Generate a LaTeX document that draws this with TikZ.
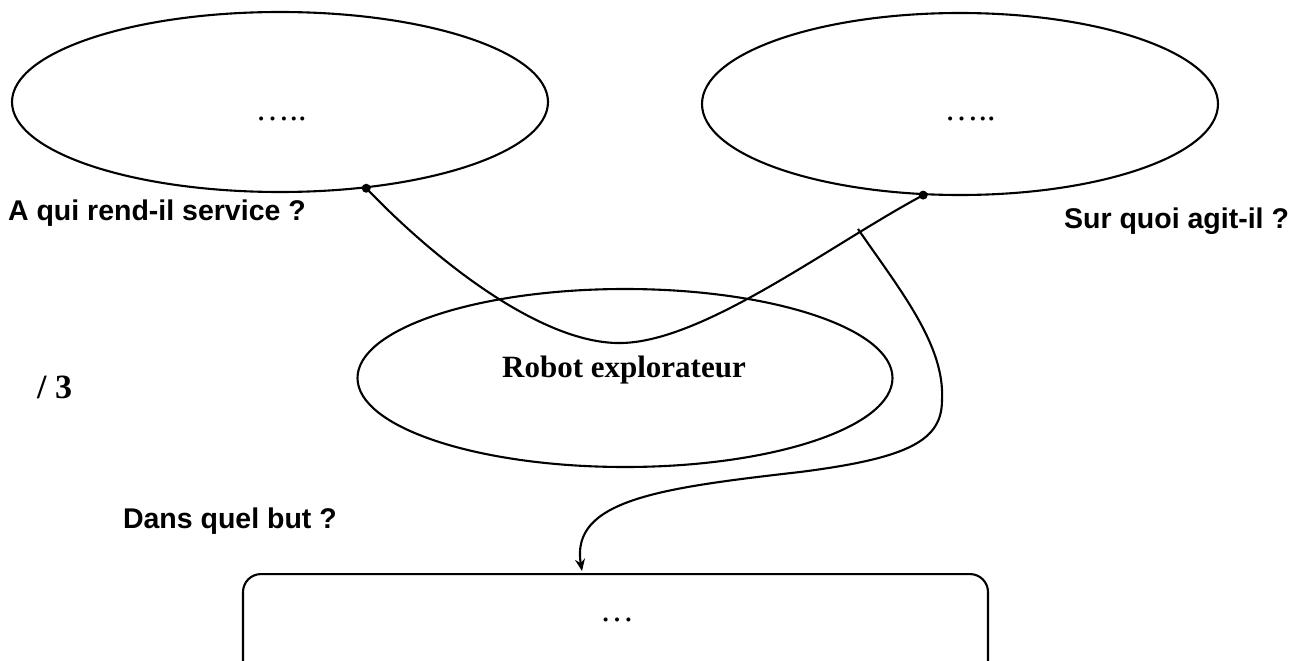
\documentclass[tikz,border=0pt]{standalone}
\usepackage{fontspec}
\setmainfont{Liberation Serif}
\setsansfont{Liberation Sans}
\usetikzlibrary{shapes.geometric,arrows.meta}
\begin{document}
\begin{tikzpicture}[x=1pt,y=-1pt,
  line width=2.1pt,
  oval/.style={draw,ellipse,inner sep=0pt},
  qlabel/.style={inner sep=0pt,font=\fontsize{28.5}{34}\selectfont\sffamily\bfseries},
  dotstxt/.style={inner sep=0pt,font=\fontsize{34}{40}\selectfont},
  joint/.style={fill=black,circle,inner sep=0pt,minimum size=9pt},
  conn/.style={line width=2.1pt}]
\useasboundingbox (0,0) rectangle (1302,661);
% ellipses
\node[oval,minimum width=536,minimum height=180] (L) at (280,102) {};
\node[oval,minimum width=516,minimum height=182] (R) at (960,104) {};
\node[oval,minimum width=535,minimum height=178] (M) at (625,378) {};
% box
\node[draw,rounded corners=18pt,minimum width=745,minimum height=150,inner sep=0pt,anchor=north] (B) at (615.5,573) {};
% texts
\node[dotstxt,anchor=base] (tL) at (281,121) {…..};
\node[dotstxt,anchor=base] (tR) at (970,121) {…..};
\node[dotstxt,anchor=base] (tB) at (617,621) {…};
\node[inner sep=0pt,anchor=base,font=\fontsize{31}{36}\selectfont\bfseries] (tM) at (624,377) {Robot explorateur};
\node[qlabel,anchor=base west] (q1) at (7,220) {A qui rend-il service ?};
\node[qlabel,anchor=base east] (q2) at (1290,228) {Sur quoi agit-il ?};
\node[qlabel,anchor=base west] (q3) at (122,528) {Dans quel but ?};
\node[inner sep=0pt,anchor=base west,font=\fontsize{34}{40}\selectfont\bfseries] (n3) at (36,398) {/ 3};
% joints
\coordinate (pL) at (L.-45);
\coordinate (pR) at (R.-112.6);
\node[joint] (dL) at (pL) {};
\node[joint] (dR) at (pR) {};
% connectors
\draw[conn] (pL) .. controls (440,265) and (545,345) .. (622,343)
  .. controls (705,341) and (830,245) .. (pR);
\coordinate (S) at (858,229);
\coordinate (A) at (582,571);
\draw[conn,-{Stealth[length=12pt,width=10pt,inset=4pt]}] (S) .. controls (900,290) and (945,345) .. (942,400)
  .. controls (942,440) and (910,458) .. (800,472)
  .. controls (660,488) and (570,500) .. (A);
\end{tikzpicture}
\end{document}
